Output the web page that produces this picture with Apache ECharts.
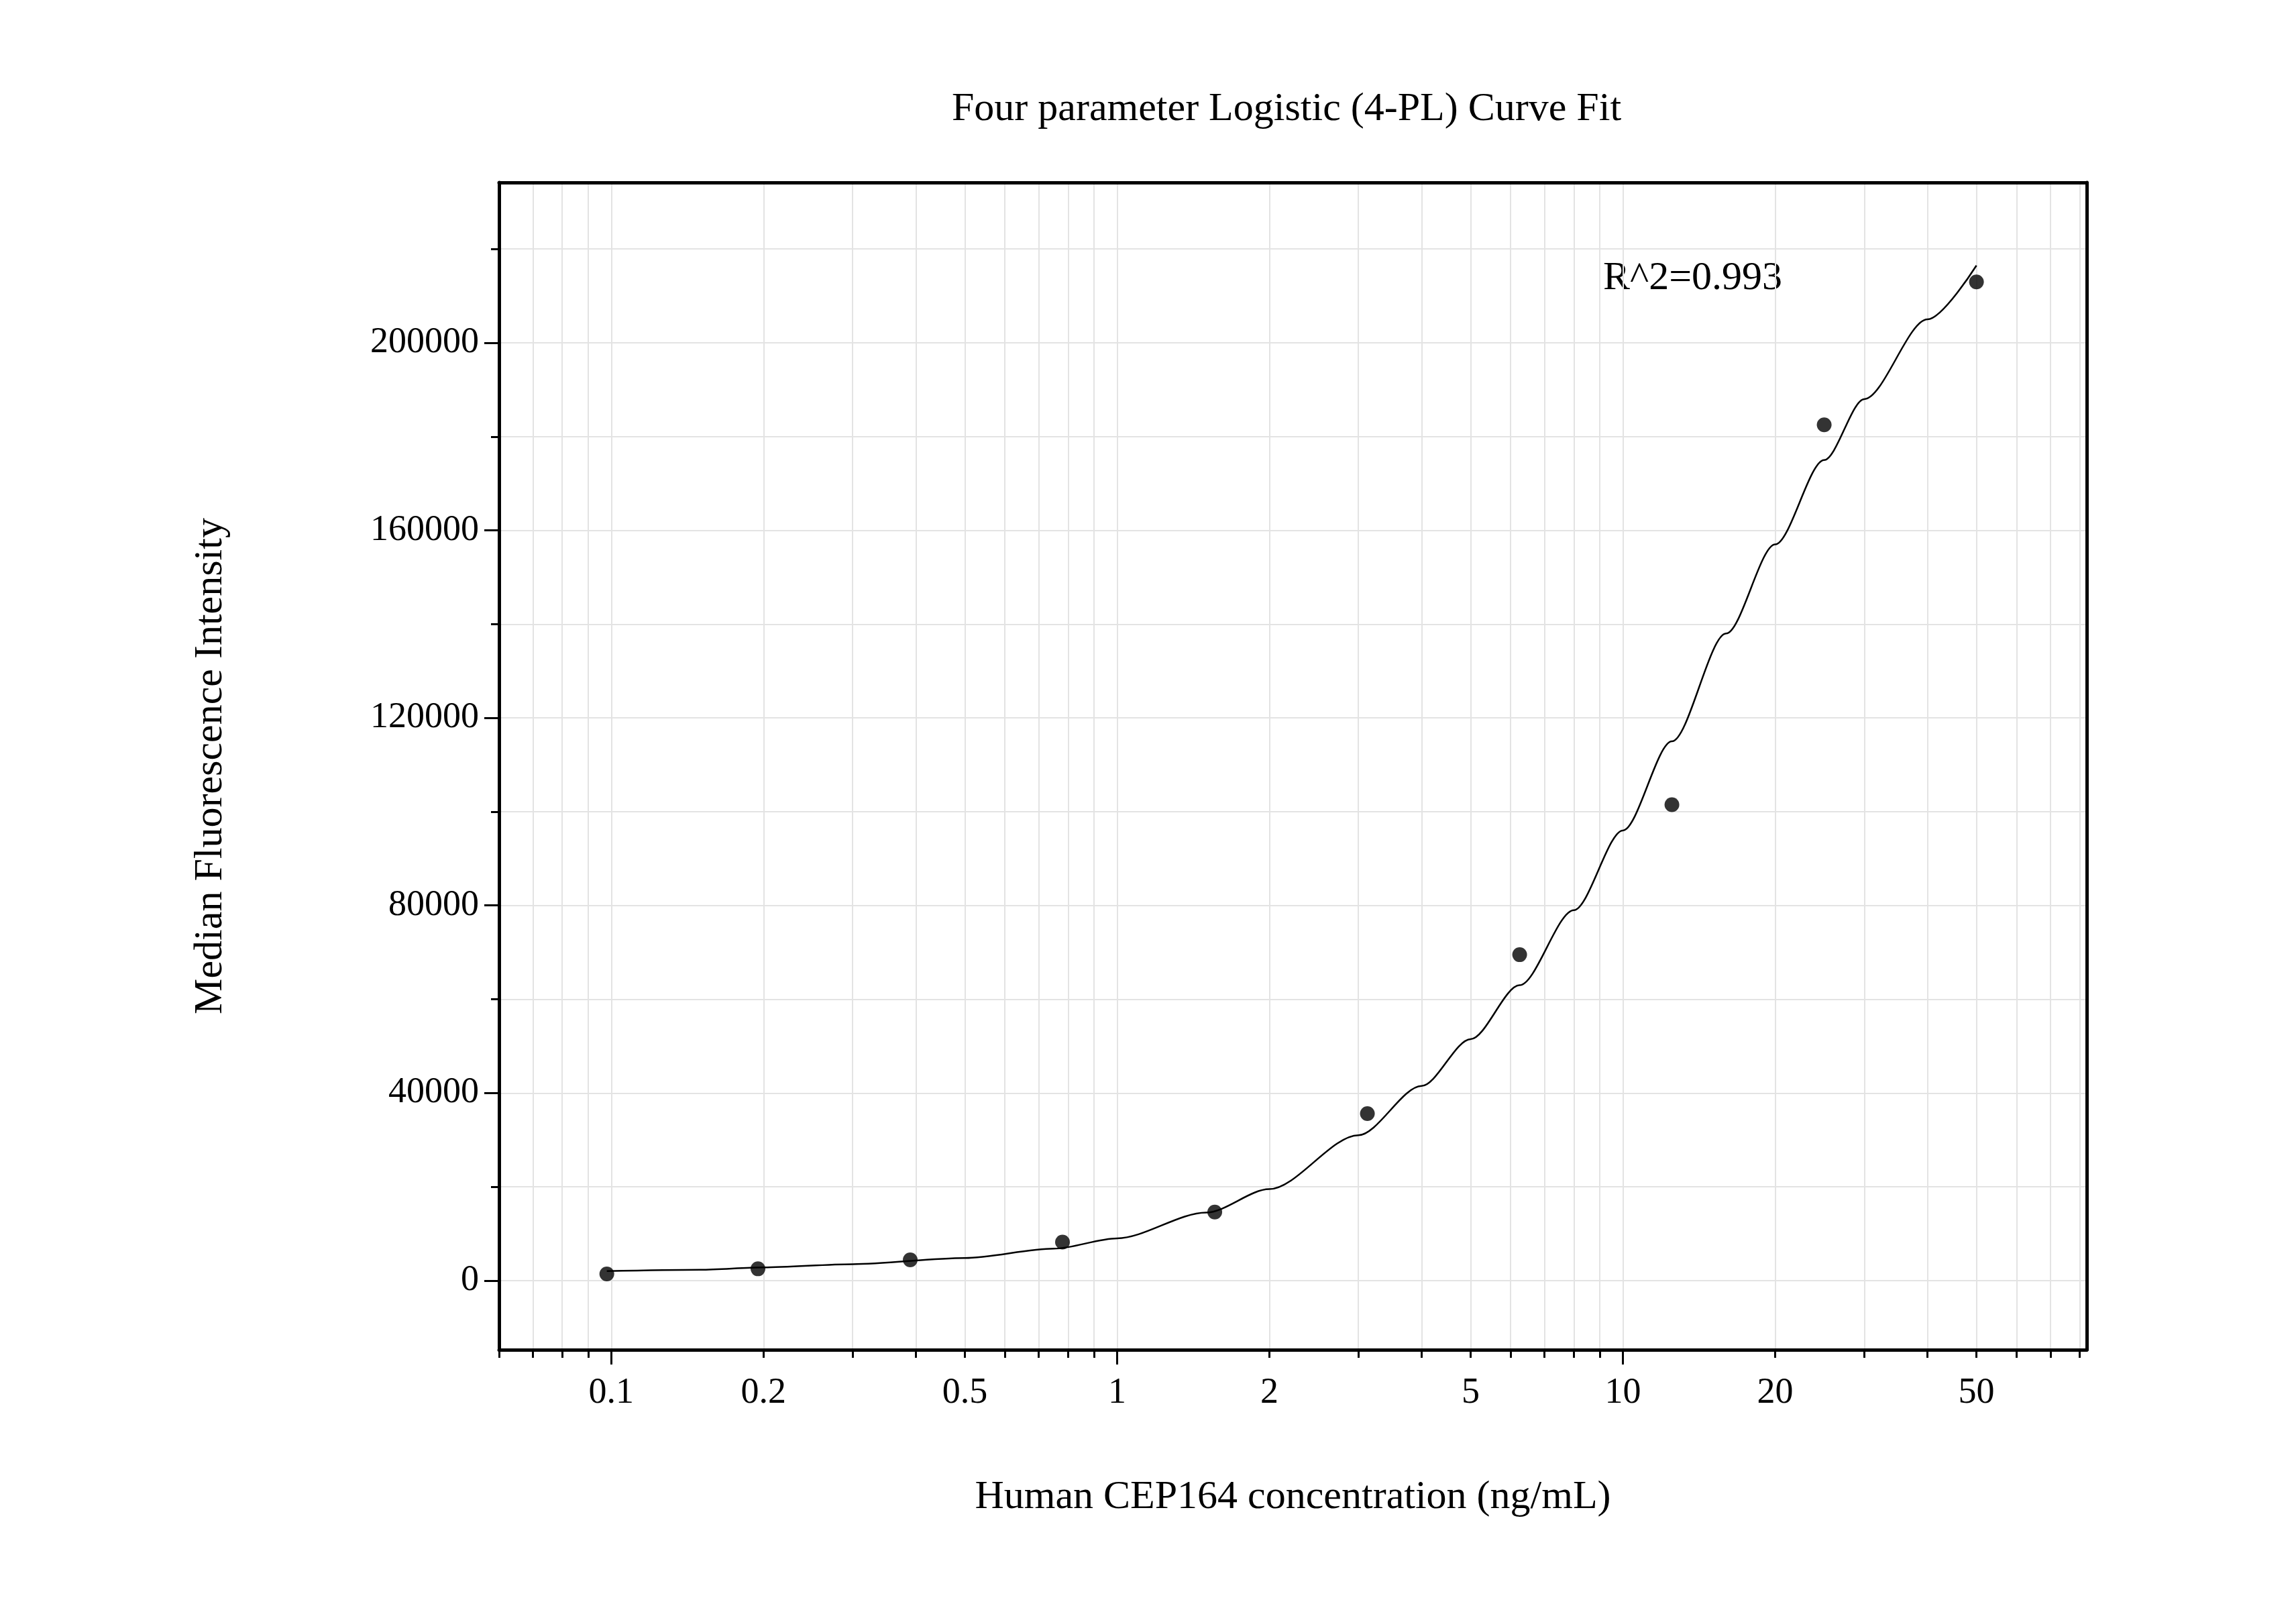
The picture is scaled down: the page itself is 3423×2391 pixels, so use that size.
<!DOCTYPE html>
<html>
<head>
<meta charset="utf-8">
<script src="https://cdn.jsdelivr.net/npm/echarts@6/dist/echarts.min.js"></script>
<style>html,body{margin:0;background:#fff}#chart{width:3423px;height:2391px}</style>
</head>
<body>
<div id="chart"></div>
<script>
// measured standards
var concentrations = [0.098, 0.195, 0.39, 0.78, 1.56, 3.125, 6.25, 12.5, 25, 50];
var intensities = [1400, 2500, 4400, 8200, 14600, 35600, 69500, 101500, 182500, 213000];
// fitted curve
var curveX = [0.098, 0.15, 0.2, 0.3, 0.5, 0.75, 1, 1.5, 2, 3, 4, 5, 6.25, 8, 10, 12.5, 16, 20, 25, 30, 40, 50];
var curveY = [2000, 2300, 2800, 3500, 4800, 6800, 9000, 14500, 19500, 31000, 41500, 51500, 63000, 79000, 96000, 115000, 138000, 157000, 175000, 188000, 205000, 216500];
var xLabels = [0.1, 0.2, 0.5, 1, 2, 5, 10, 20, 50];
var yLabels = [0, 40000, 80000, 120000, 160000, 200000];
var yMinor = [-20000, 20000, 60000, 100000, 140000, 180000, 220000];

var xAll = [];
[0.01, 0.1, 1, 10].forEach(function (d) {
    for (var i = 1; i < 10; i++) {
        var v = +(i * d).toPrecision(3);
        if (v >= 0.06 && v <= 82) xAll.push(v);
    }
});
var xDecades = [0.1, 1, 10];

var font = 'Liberation Serif';
var grid = { left: 744, right: 312, top: 272, height: 1740 };
var xMin = 0.06, xMax = 82.6, yMin = -14760, yMax = 234200;

var myChart = echarts.init(document.getElementById('chart'));
var option = {
    backgroundColor: '#fff',
    animation: false,
    title: {
        text: 'Four parameter Logistic (4-PL) Curve Fit',
        left: 1913, top: 128, textAlign: 'center',
        textStyle: { fontFamily: font, fontSize: 60, fontWeight: 'normal', color: '#000' }
    },
    graphic: [{
        type: 'text', left: 2390, top: 385,
        style: { text: 'R^2=0.993', font: '60px "Liberation Serif"', fill: '#000' }
    }],
    grid: grid,
    xAxis: [{
        type: 'log', min: xMin, max: xMax, position: 'bottom',
        name: 'Human CEP164 concentration (ng/mL)', nameLocation: 'middle', nameGap: 190,
        nameTextStyle: { fontFamily: font, fontSize: 60, color: '#000' },
        axisLine: { show: true, onZero: false, lineStyle: { color: '#000', width: 5 } },
        axisTick: { show: true, length: 12, customValues: xAll, lineStyle: { color: '#000', width: 3 } },
        axisLabel: { customValues: xLabels, margin: 38, fontFamily: font, fontSize: 54, color: '#000',
            formatter: function (v) { return String(+(+v).toPrecision(3)); } },
        splitLine: { show: true, lineStyle: { color: '#e3e3e3', width: 2 } },
        minorTick: { show: false }, minorSplitLine: { show: false }
    }, {
        type: 'log', min: xMin, max: xMax, position: 'bottom',
        axisLine: { show: false, onZero: false },
        axisTick: { show: true, length: 22, customValues: xDecades, lineStyle: { color: '#000', width: 3 } },
        axisLabel: { show: false }, splitLine: { show: false }
    }, {
        type: 'log', min: xMin, max: xMax, position: 'top',
        axisLine: { show: true, onZero: false, lineStyle: { color: '#000', width: 5 } },
        axisTick: { show: false }, axisLabel: { show: false }, splitLine: { show: false }
    }],
    yAxis: [{
        type: 'value', min: yMin, max: yMax, position: 'left',
        name: 'Median Fluorescence Intensity', nameLocation: 'middle', nameGap: 400,
        nameTextStyle: { fontFamily: font, fontSize: 60, color: '#000' },
        axisLine: { show: true, onZero: false, lineStyle: { color: '#000', width: 5 } },
        axisTick: { show: true, length: 22, customValues: yLabels, lineStyle: { color: '#000', width: 3 } },
        axisLabel: { customValues: yLabels, margin: 30, fontFamily: font, fontSize: 54, color: '#000',
            formatter: function (v) { return String(v); } },
        splitLine: { show: true, lineStyle: { color: '#e3e3e3', width: 2 } }
    }, {
        type: 'value', min: yMin, max: yMax, position: 'left',
        axisLine: { show: false, onZero: false },
        axisTick: { show: true, length: 12, customValues: yMinor, lineStyle: { color: '#000', width: 3 } },
        axisLabel: { show: false },
        splitLine: { show: true, lineStyle: { color: '#e3e3e3', width: 2 } }
    }, {
        type: 'value', min: yMin, max: yMax, position: 'right',
        axisLine: { show: true, onZero: false, lineStyle: { color: '#000', width: 5 } },
        axisTick: { show: false }, axisLabel: { show: false }, splitLine: { show: false }
    }],
    series: [{
        type: 'line', smooth: 0.3, smoothMonotone: 'x', symbol: 'none',
        lineStyle: { color: '#000', width: 2.5 },
        data: curveX.map(function (x, i) { return [x, curveY[i]]; })
    }, {
        type: 'scatter', symbolSize: 22,
        itemStyle: { color: '#000' },
        data: concentrations.map(function (x, i) { return [x, intensities[i]]; })
    }]
};
option && myChart.setOption(option);
</script>
</body>
</html>
